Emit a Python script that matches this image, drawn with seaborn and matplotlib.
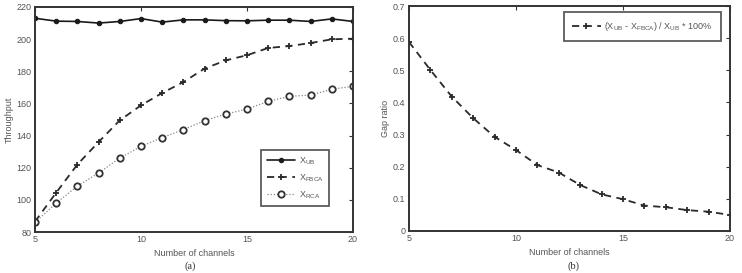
import numpy as np
import pandas as pd
import matplotlib
matplotlib.use("Agg")
import matplotlib.pyplot as plt
import seaborn as sns

# datos
channels = list(range(5, 21))
x_ub = [213, 211.2, 211, 210, 211, 212.8, 210.6, 212, 212, 211.5, 211.4, 211.8, 211.8, 211, 212.6, 211]
x_fbca = [86.5, 104.5, 122, 136, 149.5, 158.8, 166.5, 173.3, 181.7, 186.8, 190, 194.5, 195.7, 197.6, 199.9, 200.3]
x_rca = [86, 98, 108.6, 116.7, 126, 133.3, 138.7, 143.7, 149.3, 153.4, 156.5, 161.3, 164.4, 165.2, 168.8, 170.7]
gap_ratio = [0.588, 0.501, 0.418, 0.351, 0.293, 0.252, 0.205, 0.182, 0.143, 0.114, 0.099, 0.079, 0.074, 0.065, 0.060, 0.050]

sns.set_style("white")
plt.rcParams['font.family'] = ['Liberation Sans', 'DejaVu Sans']
plt.rcParams['mathtext.default'] = 'regular'

W, H = 742, 273
fig = plt.figure(figsize=(W / 100, H / 100), dpi=100)
fig.patch.set_facecolor('white')

def px_axes(x0, y0, x1, y1):
    return fig.add_axes([x0 / W, 1 - y1 / H, (x1 - x0) / W, (y1 - y0) / H])

ax1 = px_axes(35, 7, 353, 232)
ax2 = px_axes(409, 6, 730, 231)

txt = '#555555'
ln = '#1a1a1a'

df = pd.DataFrame({'ch': channels, 'ub': x_ub, 'fbca': x_fbca, 'rca': x_rca, 'gap': gap_ratio})

sns.lineplot(data=df, x='ch', y='ub', ax=ax1, color=ln, lw=1.2, marker='o', ms=3.2,
             mfc=ln, mec=ln, label='X$_{UB}$')
sns.lineplot(data=df, x='ch', y='fbca', ax=ax1, color='#2a2a2a', lw=1.3, marker='+', ms=5,
             mew=1.3, mec='#2a2a2a', label='X$_{FBCA}$')
ax1.lines[-1].set_linestyle((0, (4, 3)))
sns.lineplot(data=df, x='ch', y='rca', ax=ax1, color='#888888', lw=0.9, marker='o', ms=4.6,
             mfc='white', mec='#333333', mew=1.3, label='X$_{RCA}$')
ax1.lines[-1].set_linestyle((0, (1, 1.5)))

sns.lineplot(data=df, x='ch', y='gap', ax=ax2, color='#2a2a2a', lw=1.3, marker='+', ms=5,
             mew=1.3, mec='#2a2a2a', label='(X$_{UB}$ - X$_{FBCA}$) / X$_{UB}$ * 100%')
ax2.lines[-1].set_linestyle((0, (4, 3)))

ax1.set_xlim(5, 20)
ax1.set_ylim(80, 220)
ax1.set_xticks([5, 10, 15, 20])
ax1.set_yticks(np.arange(80, 221, 20))
ax1.set_xlabel('Number of channels', fontsize=6.5, color=txt, labelpad=3)
ax1.set_ylabel('Throughput', fontsize=6.5, color=txt, labelpad=2)

ax2.set_xlim(5, 20)
ax2.set_ylim(0, 0.7)
ax2.set_xticks([5, 10, 15, 20])
ax2.set_yticks(np.round(np.arange(0, 0.71, 0.1), 1))
ax2.set_yticklabels(['0'] + [f'{v:.1f}' for v in np.arange(0.1, 0.71, 0.1)])
ax2.set_xlabel('Number of channels', fontsize=6.5, color=txt, labelpad=3)
ax2.set_ylabel('Gap ratio', fontsize=6.5, color=txt, labelpad=2)

for ax in (ax1, ax2):
    for s in ax.spines.values():
        s.set_visible(True)
        s.set_color('#333333')
        s.set_linewidth(1.4)
    ax.tick_params(direction='in', length=3, width=0.8, colors='#333333', labelcolor=txt,
                   labelsize=6.5, top=True, right=True, pad=2.5)
    ax.grid(False)

leg1 = ax1.legend(loc='lower right', bbox_to_anchor=(0.94, 0.095), fontsize=6.5, frameon=True,
                  fancybox=False, edgecolor='#333333', handlelength=3.2, borderpad=0.6,
                  labelspacing=0.6, handletextpad=0.4)
leg1.get_frame().set_linewidth(1.3)
for t in leg1.get_texts():
    t.set_color(txt)
leg2 = ax2.legend(loc='upper right', bbox_to_anchor=(0.985, 0.995), fontsize=6.5, frameon=True,
                  fancybox=False, edgecolor='#333333', handlelength=3.2, borderpad=0.9,
                  handletextpad=0.4)
leg2.get_frame().set_linewidth(1.3)
for t in leg2.get_texts():
    t.set_color(txt)

fig.text(190 / W, 1 - 266 / H, '(a)', ha='center', va='center', fontsize=7.5,
         family=['Liberation Serif'], color='#333333')
fig.text(574 / W, 1 - 266 / H, '(b)', ha='center', va='center', fontsize=7.5,
         family=['Liberation Serif'], color='#333333')

fig.savefig('out.png', dpi=100, facecolor='white')
